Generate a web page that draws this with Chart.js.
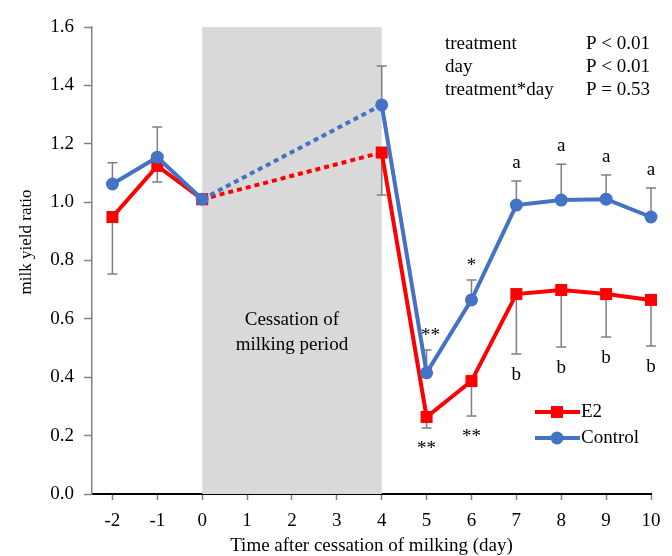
<!DOCTYPE html>
<html>
<head>
<meta charset="utf-8">
<script src="https://cdn.jsdelivr.net/npm/chart.js@4.4.1/dist/chart.umd.min.js"></script>
<style>
  html, body { margin: 0; padding: 0; background: #fff; }
  #wrap { width: 672px; height: 556px; }
</style>
</head>
<body>
<div id="wrap"><canvas id="chart" width="672" height="556"></canvas></div>
<script>
// days relative to the cessation of milking
const days = [-2, -1, 0, 4, 5, 6, 7, 8, 9, 10];
const tickDays = [-2, -1, 0, 1, 2, 3, 4, 5, 6, 7, 8, 9, 10];

const controlValues = [1.062, 1.154, 1.01, 1.333, 0.415, 0.665, 0.99, 1.007, 1.01, 0.949];
const e2Values = [0.949, 1.124, 1.01, 1.17, 0.264, 0.387, 0.685, 0.699, 0.685, 0.665];

// error bar ends (control drawn upward, E2 downward)
const controlUpper = [1.135, 1.257, null, 1.466, 0.493, 0.733, 1.072, 1.13, 1.093, 1.048];
const e2Lower = [0.754, 1.069, null, 1.024, 0.226, 0.267, 0.48, 0.504, 0.538, 0.507];

// significance marks
const controlMarks = ['', '', '', '', '**', '*', 'a', 'a', 'a', 'a'];
const e2Marks = ['', '', '', '', '**', '**', 'b', 'b', 'b', 'b'];

const statNames = ['treatment', 'day', 'treatment*day'];
const statValues = ['P < 0.01', 'P < 0.01', 'P = 0.53'];

const pauseStart = 0, pauseEnd = 4;

const SERIF = "'Liberation Serif', 'Times New Roman', serif";
const RED = '#ff0000';
const BLUE = '#4472c4';

// dotted segment across the no-milking period
const pauseDash = ctx =>
  days[ctx.p0DataIndex] === pauseStart && days[ctx.p1DataIndex] === pauseEnd ? [5, 4] : undefined;

const overlay = {
  id: 'overlay',
  beforeDatasetsDraw(chart) {
    const { ctx, chartArea: a, scales: { x, y } } = chart;
    ctx.save();
    // shaded period
    const x0 = x.getPixelForValue(pauseStart), x1 = x.getPixelForValue(pauseEnd);
    ctx.fillStyle = '#d9d9d9';
    ctx.fillRect(x0, a.top, x1 - x0, a.bottom - a.top);

    // error bars
    ctx.strokeStyle = '#7f7f7f';
    ctx.lineWidth = 1.5;
    const bar = (d, from, to) => {
      if (to === null) return;
      const px = x.getPixelForValue(d);
      const p0 = y.getPixelForValue(from), p1 = y.getPixelForValue(to);
      ctx.beginPath();
      ctx.moveTo(px, p0); ctx.lineTo(px, p1);
      ctx.moveTo(px - 5, p1); ctx.lineTo(px + 5, p1);
      ctx.stroke();
    };
    days.forEach((d, i) => {
      bar(d, controlValues[i], controlUpper[i]);
      bar(d, e2Values[i], e2Lower[i]);
    });
    ctx.restore();
  },
  afterDatasetsDraw(chart) {
    const { ctx, chartArea: a, scales: { x, y } } = chart;
    ctx.save();
    ctx.fillStyle = '#000';
    ctx.textAlign = 'center';
    ctx.textBaseline = 'middle';
    ctx.font = '19px ' + SERIF;

    // significance letters / asterisks
    days.forEach((d, i) => {
      const px = x.getPixelForValue(d);
      if (controlMarks[i]) {
        const star = controlMarks[i].includes('*');
        ctx.fillText(controlMarks[i], px + (controlMarks[i] === '**' ? 4 : 0),
          y.getPixelForValue(controlUpper[i]) - (star ? 14 : 18));
      }
      if (e2Marks[i]) {
        const star = e2Marks[i].includes('*');
        ctx.fillText(e2Marks[i], px, y.getPixelForValue(e2Lower[i]) + (star ? 21 : 21));
      }
    });

    // period label
    const mid = x.getPixelForValue((pauseStart + pauseEnd) / 2);
    ctx.fillText('Cessation of', mid, 320);
    ctx.fillText('milking period', mid, 345);

    // statistics table
    ctx.textAlign = 'left';
    statNames.forEach((s, i) => {
      ctx.fillText(s, 445, 44 + i * 23);
      ctx.fillText(statValues[i], 586, 44 + i * 23);
    });

    // legend
    const items = [
      { label: 'E2', color: RED, style: 'rect', r: 8.5 },
      { label: 'Control', color: BLUE, style: 'circle', r: 6.5 }
    ];
    items.forEach((it, i) => {
      const ly = 412 + i * 26;
      ctx.strokeStyle = it.color;
      ctx.lineWidth = 4;
      ctx.beginPath();
      ctx.moveTo(535, ly); ctx.lineTo(580, ly);
      ctx.stroke();
      ctx.fillStyle = it.color;
      Chart.helpers.drawPoint(ctx, { pointStyle: it.style, radius: it.r, borderWidth: 0 }, 557, ly);
      ctx.fillStyle = '#000';
      ctx.fillText(it.label, 581, ly);
    });

    // axis titles
    ctx.textAlign = 'center';
    ctx.fillText('Time after cessation of milking (day)', (a.left + a.right) / 2, 546);
    ctx.translate(27, 242);
    ctx.rotate(-Math.PI / 2);
    ctx.font = '17px ' + SERIF;
    ctx.fillText('milk yield ratio', 0, 0);
    ctx.restore();
  }
};

new Chart(document.getElementById('chart'), {
  type: 'line',
  data: {
    datasets: [
      {
        label: 'Control',
        data: days.map((d, i) => ({ x: d, y: controlValues[i] })),
        borderColor: BLUE,
        backgroundColor: BLUE,
        borderWidth: 4,
        pointStyle: 'circle',
        pointRadius: 6.5,
        pointBorderWidth: 0,
        segment: { borderDash: pauseDash },
        clip: false,
        order: 1
      },
      {
        label: 'E2',
        data: days.map((d, i) => ({ x: d, y: e2Values[i] })),
        borderColor: RED,
        backgroundColor: RED,
        borderWidth: 4,
        pointStyle: 'rect',
        pointRadius: 8.5,
        pointBorderWidth: 0,
        segment: { borderDash: pauseDash },
        clip: false,
        order: 2
      }
    ]
  },
  options: {
    responsive: false,
    animation: false,
    layout: { padding: { top: 27, right: 21, left: 0, bottom: 0 } },
    plugins: { legend: { display: false }, tooltip: { enabled: false } },
    scales: {
      x: {
        type: 'linear',
        min: -2.455,
        max: 10,
        afterBuildTicks: s => { s.ticks = tickDays.map(v => ({ value: v })); },
        afterFit: s => { s.height = 62; },
        grid: { drawOnChartArea: false, tickLength: 6, color: '#808080', tickWidth: 1.5 },
        border: { color: '#000', width: 2 },
        ticks: { color: '#000', font: { family: SERIF, size: 19 }, padding: 10, maxRotation: 0 }
      },
      y: {
        min: 0,
        max: 1.6,
        afterFit: s => { s.width = 92; },
        grid: { drawOnChartArea: false, tickLength: 8, color: '#808080', tickWidth: 1.5 },
        border: { color: '#808080', width: 1.5 },
        ticks: { stepSize: 0.2, color: '#000', font: { family: SERIF, size: 19 }, padding: 10,
                 callback: v => v.toFixed(1) }
      }
    }
  },
  plugins: [overlay]
});
</script>
</body>
</html>
